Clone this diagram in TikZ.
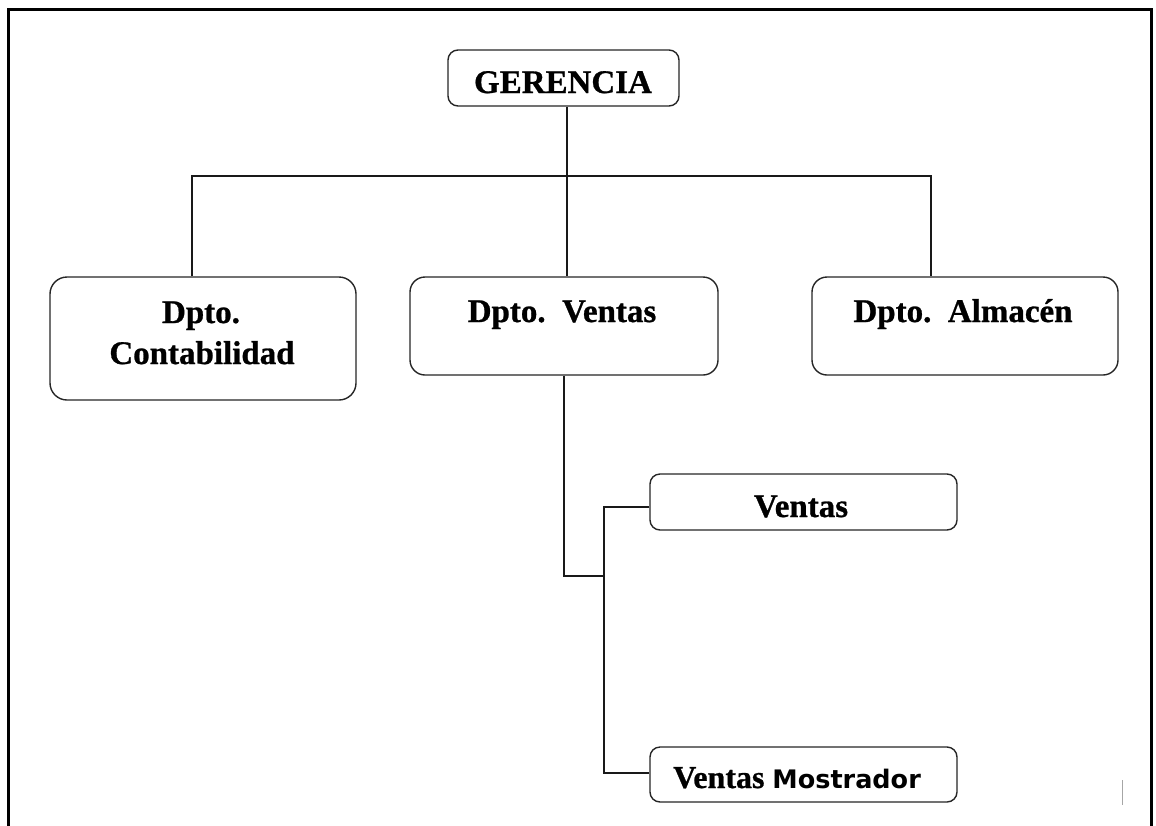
\documentclass[tikz,border=0pt]{standalone}
\usepackage{fontspec}
\setmainfont{Liberation Serif}[BoldFeatures={FakeBold=0.8}]
\newfontfamily\dvsans{DejaVu Sans}
\begin{document}
\begin{tikzpicture}[x=1pt,y=-1pt,
  box/.style={draw=black!85,line width=1.4pt,rounded corners=#1,minimum width=0pt,inner sep=0pt,fill=white},
  box/.default=14pt,
  lbl/.style={anchor=base,inner sep=0pt,font=\fontsize{33}{40}\selectfont\bfseries},
  conn/.style={draw=black!90,line width=1.3pt}]
\useasboundingbox (0,0) rectangle (1156,825);
% frame
\draw[line width=3pt,black] (8.5,840) -- (8.5,9.5) -- (1151,9.5) -- (1151,840);
% boxes
\node[box=10pt,minimum width=231pt,minimum height=56pt] (ger) at (563.5,78) {};
\node[box=17pt,minimum width=306pt,minimum height=123pt] (cont) at (203,338.5) {};
\node[box=15pt,minimum width=308pt,minimum height=98pt] (ven) at (564,326) {};
\node[box=15pt,minimum width=306pt,minimum height=98pt] (alm) at (965,326) {};
\node[box=10pt,minimum width=307pt,minimum height=56pt] (vs) at (803.5,502) {};
\node[box=10pt,minimum width=307pt,minimum height=55pt] (vm) at (803.5,774.5) {};
% labels
\node[lbl] (tger) at (563,93) {GERENCIA};
\node[lbl] (tcont1) at (201,323) {Dpto.};
\node[lbl] (tcont2) at (202,364) {Contabilidad};
\node[lbl] (tven) at (562,322) {Dpto.\ \ Ventas};
\node[lbl] (talm) at (963,322) {Dpto.\ \ Almacén};
\node[lbl] (tvs) at (801,517) {Ventas};
\node[anchor=base,inner sep=0pt] (tvm) at (797,788) {\fontsize{32}{36}\selectfont\bfseries Ventas {\dvsans\fontsize{25.5}{28}\selectfont\bfseries Mostrador}};
% coordinates
\coordinate (b1) at (192,176);
\coordinate (b2) at (931,176);
\coordinate (g1) at (567,176);
\coordinate (v1) at (564,576);
\coordinate (v2) at (604,576);
\coordinate (v3) at (604,507);
\coordinate (v4) at (604,773);
% connectors
\draw[conn] (ger.south -| g1) -- (ven.north -| g1);
\draw[conn] (cont.north -| b1) -- (b1) -- (b2) -- (alm.north -| b2);
\draw[conn] (ven.south -| v1) -- (v1) -- (v2);
\draw[conn] (vs.west |- v3) -- (v3) -- (v4) -- (vm.west |- v4);
% small mark
\coordinate (m1) at (1122,780);
\coordinate (m2) at (1122,805);
\draw[gray!70,line width=0.8pt] (m1) -- (m2);
\end{tikzpicture}
\end{document}
